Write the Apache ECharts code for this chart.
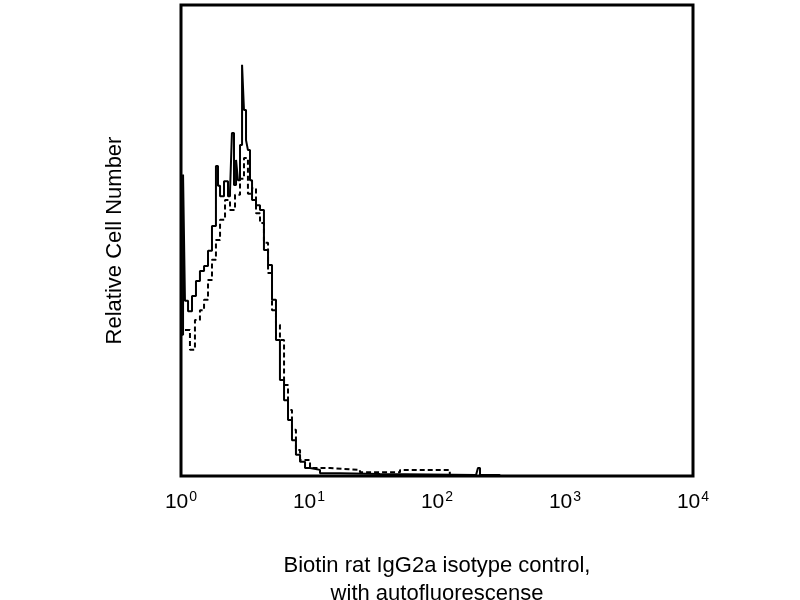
<!DOCTYPE html>
<html>
<head>
<meta charset="utf-8">
<script src="https://cdn.jsdelivr.net/npm/echarts@6/dist/echarts.min.js"></script>
<style>html,body{margin:0;background:#fff}</style>
</head>
<body>
<div id="main" style="width:800px;height:600px;"></div>
<script>
// x = log10(fluorescence), y = relative count
var solidX = [0.0, 0.016, 0.031, 0.055, 0.086, 0.117, 0.148, 0.180, 0.211, 0.242, 0.273, 0.289, 0.305, 0.336, 0.367, 0.383, 0.398, 0.414, 0.430, 0.445, 0.461, 0.477, 0.492, 0.508, 0.523, 0.539, 0.555, 0.586, 0.617, 0.648, 0.680, 0.711, 0.742, 0.773, 0.805, 0.836, 0.867, 0.898, 0.930, 0.969, 1.008, 1.086, 1.242, 1.555, 2.305, 2.32, 2.336, 2.49];
var solidY = [30, 64, 37.2, 35.0, 38.2, 41.4, 43.5, 44.6, 47.8, 53.1, 65.8, 61.6, 59.4, 62.6, 59.4, 60.5, 72.8, 61.8, 67.1, 62.8, 70.3, 87.3, 77.7, 71.3, 69.2, 62.8, 58.6, 57.5, 56.5, 48.0, 44.8, 37.4, 28.9, 20.4, 16.1, 11.9, 7.6, 4.5, 3.0, 1.7, 1.3, 0.6, 0.4, 0.2, 0.2, 1.7, 0.2, 0];
var dashX = [0.031, 0.070, 0.109, 0.148, 0.180, 0.211, 0.242, 0.273, 0.305, 0.344, 0.383, 0.422, 0.461, 0.492, 0.523, 0.555, 0.586, 0.617, 0.648, 0.680, 0.711, 0.742, 0.773, 0.805, 0.836, 0.867, 0.898, 0.930, 1.008, 1.164, 1.398, 1.711, 1.945, 2.1];
var dashY = [31.0, 26.8, 33.1, 35.2, 37.4, 41.6, 45.9, 50.1, 54.4, 58.6, 56.5, 59.7, 63.1, 67.5, 59.9, 61.1, 55.8, 53.7, 49.5, 43.1, 35.2, 32.1, 28.9, 19.3, 14.0, 9.8, 5.5, 3.4, 1.7, 1.3, 0.8, 1.3, 1.3, 0.2];
var decades = [0, 1, 2, 3, 4];

function pairs(xs, ys) {
  return xs.map(function (x, i) { return [x, ys[i]]; });
}

var chart = echarts.init(document.getElementById("main"));
chart.setOption({
  animation: false,
  grid: { left: 181, right: 107, top: 5, bottom: 124, outerBoundsMode: "none", containLabel: false,
    show: true, borderColor: "#000", borderWidth: 3 },
  xAxis: {
    type: "value", min: 0, max: 4, interval: 1,
    axisLine: { show: false }, axisTick: { show: false }, splitLine: { show: false },
    axisLabel: {
      margin: 14,
      formatter: function (v) { return decades.indexOf(v) >= 0 ? "{b|10}{s|" + v + "}" : ""; },
      rich: {
        b: { fontFamily: "Liberation Sans", fontSize: 21, color: "#000" },
        s: { fontFamily: "Liberation Sans", fontSize: 14, color: "#000", verticalAlign: "top", padding: [0, 0, 10, 1] }
      }
    },
    name: "Biotin rat IgG2a isotype control,\nwith autofluorescense",
    nameLocation: "middle", nameGap: 76,
    nameTextStyle: { fontFamily: "Liberation Sans", fontSize: 22, color: "#000", lineHeight: 28 }
  },
  yAxis: {
    type: "value", min: 0, max: 100,
    axisLine: { show: false }, axisTick: { show: false }, splitLine: { show: false }, axisLabel: { show: false },
    name: "Relative Cell Number", nameLocation: "middle", nameGap: 55,
    nameTextStyle: { fontFamily: "Liberation Sans", fontSize: 22, color: "#000" }
  },
  series: [
    { type: "line", step: "end", symbol: "none", data: pairs(dashX, dashY),
      lineStyle: { color: "#000", width: 2, type: [5, 3] } },
    { type: "line", step: "end", symbol: "none", data: pairs(solidX, solidY),
      lineStyle: { color: "#000", width: 2 } }
  ]
});
</script>
</body>
</html>
